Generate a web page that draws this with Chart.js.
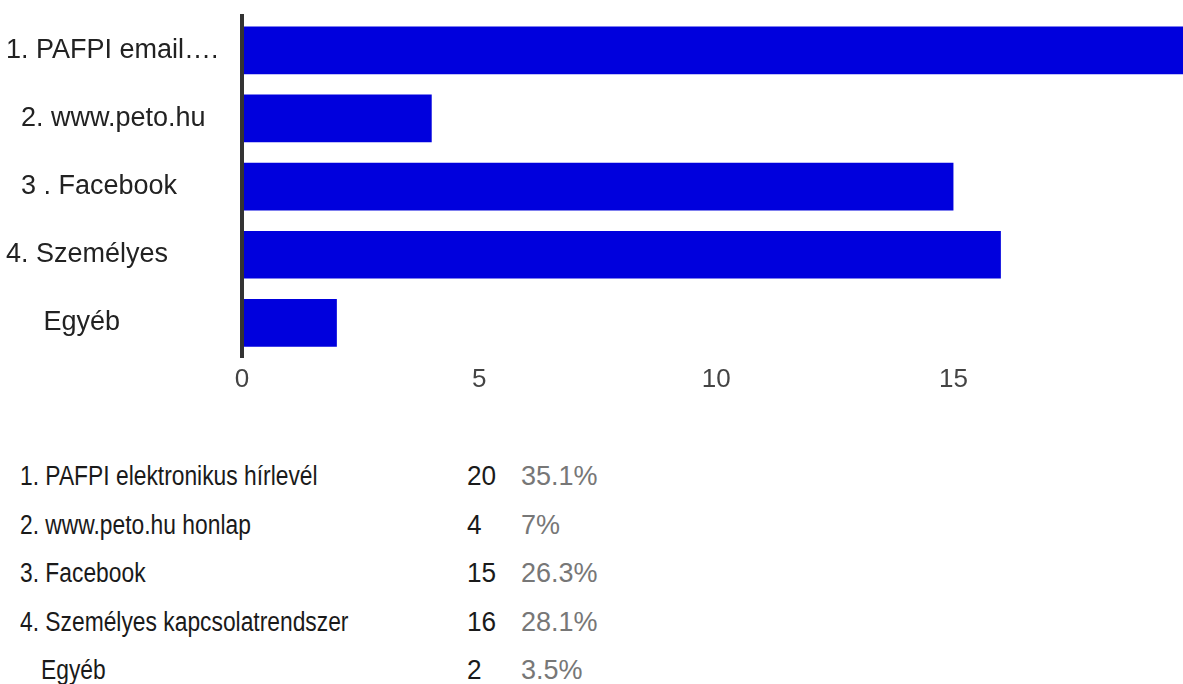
<!DOCTYPE html>
<html>
<head>
<meta charset="utf-8">
<script src="https://cdn.jsdelivr.net/npm/chart.js@4/dist/chart.umd.min.js"></script>
<style>
  body { margin: 0; background: #fff; font-family: "Liberation Sans", Arial, sans-serif; }
  #wrap { position: relative; width: 1183px; height: 684px; overflow: hidden; }
  #chart-box { position: absolute; left: 0; top: 0; width: 1183px; height: 410px; }
  #summary { position: absolute; left: 0; top: 452px; width: 700px; }
  .row { position: relative; height: 48.5px; line-height: 48.5px; font-size: 27px; }
  .row span { position: absolute; top: 0; display: inline-block; white-space: nowrap;
              transform: scaleX(0.845); transform-origin: left center; }
  .lbl { color: #1a1a1a; }
  .row span.cnt { color: #1a1a1a; left: 467px; transform: scaleX(0.97); }
  .row span.pct { color: #777; left: 521px; transform: none; }
</style>
</head>
<body>
<div id="wrap">
  <div id="chart-box"><canvas id="bar-chart"></canvas></div>
  <div id="summary"></div>
</div>
<script>
// ============================
// DATA
// ============================

const categories = [
  "1. PAFPI email….",
  "  2. www.peto.hu",
  "  3 . Facebook",
  "4. Személyes",
  "     Egyéb"
];
const counts = [20, 4, 15, 16, 2];
const xTicks = [0, 5, 10, 15];

const fullLabels = [
  "1. PAFPI elektronikus hírlevél",
  "2. www.peto.hu honlap",
  "3. Facebook",
  "4. Személyes kapcsolatrendszer",
  "Egyéb"
];
const percentLabels = ["35.1%", "7%", "26.3%", "28.1%", "3.5%"];

// ============================
// SUMMARY TABLE
// ============================

const summary = document.getElementById("summary");
fullLabels.forEach((name, i) => {
  const row = document.createElement("div");
  row.className = "row";
  const indent = name.match(/^\d/) ? 19.5 : 41;
  row.innerHTML = `
    <span class="lbl" style="left:${indent}px">${name}</span>
    <span class="cnt">${counts[i]}</span>
    <span class="pct">${percentLabels[i]}</span>
  `;
  summary.appendChild(row);
});

// ============================
// CHART
// ============================

new Chart(document.getElementById("bar-chart"), {
  type: "bar",
  data: {
    labels: categories,
    datasets: [{
      data: counts,
      backgroundColor: "#0000dd",
      borderWidth: 0,
      barPercentage: 0.7,
      categoryPercentage: 1.0
    }]
  },
  options: {
    indexAxis: "y",
    responsive: true,
    maintainAspectRatio: false,
    animation: false,
    layout: { padding: { top: 15, left: 6, right: 0, bottom: 0 } },
    plugins: {
      legend: { display: false },
      tooltip: { enabled: false }
    },
    scales: {
      x: {
        min: 0,
        max: 19.84,
        grid: { display: false, drawTicks: false },
        border: { display: false },
        ticks: {
          stepSize: 5,
          includeBounds: false,
          padding: 7,
          color: "#444",
          font: { family: "Liberation Sans", size: 26 }
        },
        afterBuildTicks: scale => {
          scale.ticks = xTicks.map(v => ({ value: v }));
        },
        afterFit: scale => { scale.height = 53; }
      },
      y: {
        grid: { display: false, drawTicks: false },
        border: { display: true, color: "#333", width: 4, z: 1 },
        ticks: {
          crossAlign: "far",
          padding: 0,
          color: "#222",
          font: { family: "Liberation Sans", size: 27 }
        },
        afterFit: scale => { scale.width = 236; }
      }
    }
  }
});
</script>
</body>
</html>
